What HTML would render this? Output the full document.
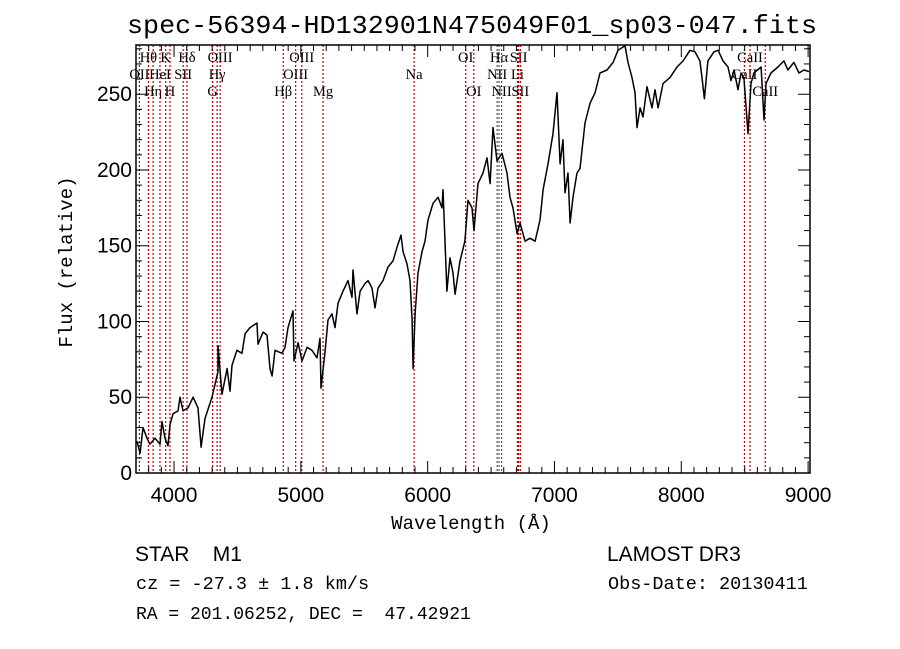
<!DOCTYPE html>
<html><head><meta charset="utf-8"><style>
body{margin:0;background:#fff;width:900px;height:649px;overflow:hidden}
svg{display:block}
.mono{font-family:"Liberation Mono",monospace}
.sans{font-family:"Liberation Sans",sans-serif}
.ser{font-family:"Liberation Serif",serif}
</style></head><body>
<svg id="chart" width="900" height="649" viewBox="0 0 900 649" xmlns="http://www.w3.org/2000/svg">
<text class="mono" x="472" y="33" font-size="26" text-anchor="middle" textLength="690" lengthAdjust="spacingAndGlyphs">spec-56394-HD132901N475049F01_sp03-047.fits</text>
<g id="lines"></g>
<g id="spec"></g>
<g id="axes"></g>
<text class="mono" x="471" y="529" font-size="19" text-anchor="middle">Wavelength (Å)</text>
<text class="mono" x="0" y="0" font-size="19" text-anchor="middle" transform="translate(72,262) rotate(-90)">Flux (relative)</text>
<text class="sans" x="135" y="561" font-size="21">STAR&#160;&#160;&#160;&#160;M1</text>
<text class="sans" x="607" y="561" font-size="21">LAMOST DR3</text>
<text class="mono" x="136" y="589" font-size="18.5">cz = -27.3 ± 1.8 km/s</text>
<text class="mono" x="608" y="589" font-size="18.5">Obs-Date: 20130411</text>
<text class="mono" x="136" y="619" font-size="18">RA = 201.06252, DEC = &#160;47.42921</text>
</svg>
<script>
const wavelengths=[3708,3732,3755,3787,3810,3850,3889,3905,3929,3952,3968,3992,4031,4047,4071,4110,4150,4189,4213,4244,4299,4347,4347,4378,4418,4441,4457,4496,4536,4560,4599,4654,4662,4702,4733,4757,4773,4796,4851,4875,4899,4938,4946,4978,5009,5049,5088,5127,5151,5159,5190,5214,5246,5269,5293,5332,5372,5403,5411,5443,5467,5506,5530,5561,5585,5608,5648,5687,5727,5758,5790,5806,5837,5861,5877,5885,5901,5924,5955,5979,6003,6018,6042,6082,6113,6121,6137,6152,6176,6200,6216,6255,6294,6318,6350,6365,6397,6436,6468,6492,6515,6547,6586,6626,6649,6673,6705,6728,6768,6807,6847,6886,6910,6949,6988,7020,7044,7067,7083,7107,7123,7146,7178,7201,7241,7280,7320,7359,7414,7462,7501,7556,7580,7611,7635,7651,7675,7698,7730,7769,7793,7817,7856,7911,7966,8014,8069,8108,8147,8163,8182,8210,8258,8290,8329,8368,8392,8416,8447,8471,8494,8526,8550,8573,8629,8652,8668,8707,8762,8809,8841,8888,8928,8967,9006];
const fluxes=[21,13,30,23,19,23,19,34,23,18,32,39,41,50,41,43,50,43,17,36,50,67,84,52,69,54,71,81,79,92,96,99,85,93,91,69,64,81,79,83,96,107,74,86,74,83,81,76,89,56,79,101,105,96,112,120,127,116,134,105,120,125,127,122,109,122,127,136,140,149,157,146,138,127,101,69,105,132,146,153,167,171,178,182,175,187,153,120,142,132,118,140,153,180,175,160,191,198,208,191,228,206,211,198,182,175,158,165,153,155,153,167,187,204,224,251,204,220,185,198,165,182,198,201,231,244,251,264,266,271,279,282,271,261,251,228,241,235,255,241,253,241,257,261,268,272,279,278,272,261,247,272,278,279,272,268,259,266,253,264,261,224,257,264,268,233,257,264,268,272,266,271,264,266,265];
const lineWaves=[3727,3798,3835,3889,3934,3968,4072,4102,4304,4340,4363,4861,4959,5007,5175,5893,6300,6364,6548,6563,6583,6708,6717,6731,8498,8542,8662];
const lineNames=["OII","Hθ","Hη","HeI","K","H","SII","Hδ","G","Hγ","OIII","Hβ","OIII","OIII","Mg","Na","OI","OI","NII","Hα","NII","Li","SII","SII","CaII","CaII","CaII"];
const lineRows=[1,0,2,1,0,2,1,0,2,1,0,2,1,0,2,1,0,2,1,0,2,1,0,2,1,0,2];
const xTicks=[4000,5000,6000,7000,8000,9000];
const yTicks=[0,50,100,150,200,250];
const NS='http://www.w3.org/2000/svg';
const L=136,R=810,T=45,B=473;
const xMin=3700,xMax=9015,yMin=0,yMax=282.5;
const sx=v=>L+(v-xMin)/(xMax-xMin)*(R-L);
const sy=v=>B-(v-yMin)/(yMax-yMin)*(B-T);
function mk(tag,attrs,parent){const e=document.createElementNS(NS,tag);for(const k in attrs)e.setAttribute(k,attrs[k]);parent.appendChild(e);return e;}
const gl=document.getElementById('lines'),gs=document.getElementById('spec'),ga=document.getElementById('axes');
lineWaves.forEach((w,i)=>{
  const x=sx(w);
  const ln=mk('line',{x1:x,x2:x,y1:T,y2:B,stroke:(w>6540&&w<6590)?'#555':'#c00000','stroke-width':1.2,'stroke-dasharray':'2,2'},gl);
  
  
  const t=mk('text',{x:x,y:62+lineRows[i]*17,'text-anchor':'middle','font-size':14.5,class:'ser'},gl);
  t.textContent=lineNames[i];
  
  
});
let d='';
wavelengths.forEach((w,i)=>{d+=(i?'L':'M')+sx(w).toFixed(1)+','+sy(fluxes[i]).toFixed(1);});
const p=mk('path',{d:d,fill:'none',stroke:'#000','stroke-width':1.5,'stroke-linejoin':'round'},gs);


const fr=mk('rect',{x:L,y:T,width:R-L,height:B-T,fill:'none',stroke:'#000','stroke-width':1.5},ga);


for(let w=3800;w<=9000;w+=100){const x=sx(w);const big=w%1000===0;const h=big?12:6;
  mk('line',{x1:x,x2:x,y1:B,y2:B-h,stroke:'#000','stroke-width':1},ga);
  mk('line',{x1:x,x2:x,y1:T,y2:T+h,stroke:'#000','stroke-width':1},ga);}
xTicks.forEach(v=>{const t=mk('text',{x:sx(v),y:B+29,'text-anchor':'middle','font-size':21,class:'sans'},ga);t.textContent=v;
  
  });
for(let v=0;v<=280;v+=10){const y=sy(v);const big=v%50===0;const h=big?12:6;
  mk('line',{x1:L,x2:L+h,y1:y,y2:y,stroke:'#000','stroke-width':1},ga);
  mk('line',{x1:R,x2:R-h,y1:y,y2:y,stroke:'#000','stroke-width':1},ga);}
yTicks.forEach(v=>{const t=mk('text',{x:L-4,y:sy(v)+7,'text-anchor':'end','font-size':21,class:'sans'},ga);t.textContent=v;
  
  });
</script>
</body></html>
